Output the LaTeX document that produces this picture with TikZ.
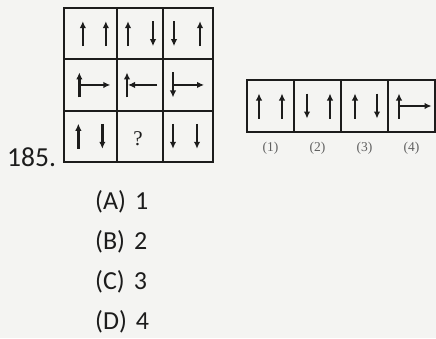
\documentclass[tikz,border=0pt]{standalone}
\usepackage{fontspec}
\setmainfont{Carlito}
\newfontfamily\labelfont{Liberation Serif}
\usetikzlibrary{arrows.meta,calc}
\definecolor{inkgray}{RGB}{28,28,28}
\definecolor{paper}{RGB}{244,244,242}
\tikzset{
    cell/.style={
        draw=inkgray,line width=2.2pt,minimum width=#1,minimum height=51.3pt,
        inner sep=0pt,outer sep=0pt
    },
    cell/.default=49.7pt,
    optcell/.style={
        cell=47pt,minimum height=52pt
    },
    arr/.style={
        -{Latex[length=7pt,width=6.5pt]},line width=2.3pt,draw=inkgray
    },
    choice/.style={
        anchor=west,inner sep=0pt,text=inkgray,font=\fontsize{26}{30}\selectfont
    },
    optlabel/.style={
        inner sep=0pt,text=inkgray!70,font=\labelfont\fontsize{13.5}{16}\selectfont
    }
}
\newcommand{\uarr}[2]{\draw[arr] ($(#1.center)+(#2,12.5)$) -- ($(#1.center)+(#2,-12.5)$);}
\newcommand{\darr}[2]{\draw[arr] ($(#1.center)+(#2,-12.5)$) -- ($(#1.center)+(#2,12.5)$);}
\newcommand{\harr}[3]{\draw[arr] ($(#1.center)+(#2,0)$) -- ($(#1.center)+(#3,0)$);}

\begin{document}
\begin{tikzpicture}[x=1pt,y=-1pt]
\fill[paper] (0,0) rectangle (436,338);
\useasboundingbox (0,0) rectangle (436,338);

% question grid
\foreach \r/\y in {1/33.65,2/84.95,3/136.25}
  \foreach \c/\x/\w in {1/90.35/52.7pt,2/140/46.6pt,3/188/49.4pt}
    \node[cell=\w] (g\r\c) at (\x,\y) {};

\uarr{g11}{-7.5} \uarr{g11}{15.5}
\uarr{g12}{-12} \darr{g12}{13}
\darr{g13}{-14} \uarr{g13}{12}

\uarr{g21}{-11} \harr{g21}{-11}{20}
\uarr{g22}{-13} \harr{g22}{17}{-12}
\darr{g23}{-15} \harr{g23}{-15}{16}

\uarr{g31}{-12} \darr{g31}{12}
\node[font=\labelfont\fontsize{21}{24}\selectfont,text=inkgray] (q) at ($(g32.center)+(-2,2)$) {?};
\darr{g33}{-15} \darr{g33}{9}

% answer figures
\foreach \k/\x in {1/270.5,2/317.5,3/364.5,4/411.5}{
  \node[optcell] (o\k) at (\x,106) {};
  \node[optlabel] (l\k) at (\x,148) {(\k)};
}

\uarr{o1}{-11.5} \uarr{o1}{11.5}
\darr{o2}{-10.5} \uarr{o2}{12.5}
\uarr{o3}{-9.5} \darr{o3}{12.5}
\uarr{o4}{-12.5} \harr{o4}{-12.5}{20}

\node[anchor=west,inner sep=0pt,text=inkgray,font=\fontsize{27.5}{30}\selectfont] (num) at (7,157) {185.};

\node[choice] (ca) at (95,202) {(A)\hspace{9pt}1};
\node[choice] (cb) at (95,242) {(B)\hspace{9pt}2};
\node[choice] (cc) at (95,282) {(C)\hspace{9pt}3};
\node[choice] (cd) at (95,322) {(D)\hspace{9pt}4};

\end{tikzpicture}
\end{document}
